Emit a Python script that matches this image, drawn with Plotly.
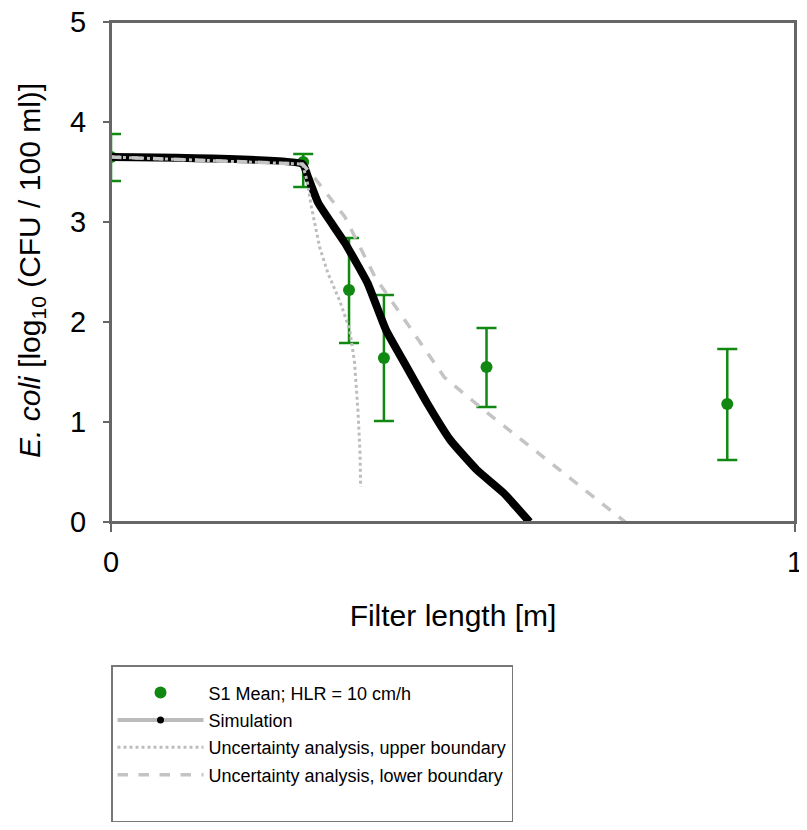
import plotly.graph_objects as go

# measured data (S1 mean, HLR = 10 cm/h)
obs_x = [0.0, 0.281, 0.348, 0.399, 0.549, 0.901]
obs_y = [3.65, 3.60, 2.32, 1.64, 1.55, 1.18]
obs_hi = [3.88, 3.68, 2.84, 2.27, 1.94, 1.73]
obs_lo = [3.41, 3.35, 1.79, 1.01, 1.15, 0.62]

# simulation
sim_x = [0.0, 0.28, 0.288, 0.303, 0.342, 0.375, 0.402, 0.429, 0.462, 0.496, 0.535, 0.574, 0.612]
sim_y = [3.65, 3.58, 3.45, 3.19, 2.79, 2.39, 1.92, 1.59, 1.19, 0.82, 0.52, 0.29, 0.0]

# uncertainty analysis, upper boundary
up_x = [0.0, 0.28, 0.287, 0.293, 0.305, 0.317, 0.335, 0.349, 0.356, 0.361, 0.364, 0.365]
up_y = [3.65, 3.58, 3.40, 3.15, 2.75, 2.49, 2.20, 1.92, 1.60, 1.12, 0.70, 0.35]

# uncertainty analysis, lower boundary
low_x = [0.0, 0.28, 0.30, 0.342, 0.386, 0.433, 0.487, 0.545, 0.632, 0.69, 0.752]
low_y = [3.65, 3.58, 3.42, 3.05, 2.45, 1.99, 1.45, 1.12, 0.65, 0.33, 0.0]

# y tick labels
y_ticks = [0, 1, 2, 3, 4, 5]

green = '#118811'
fig = go.Figure()

fig.add_trace(go.Scatter(
    x=obs_x, y=obs_y, mode='markers', name='S1 Mean; HLR = 10 cm/h',
    legendgroup='a',
    marker=dict(color=green, size=12),
    error_y=dict(type='data', symmetric=False,
                 array=[h - m for h, m in zip(obs_hi, obs_y)],
                 arrayminus=[m - l for m, l in zip(obs_y, obs_lo)],
                 color=green, thickness=2.5, width=10)
))
fig.add_trace(go.Scatter(
    x=sim_x, y=sim_y, mode='lines', showlegend=False,
    line=dict(color='black', width=8, shape='spline', smoothing=0.4)
))
# legend entry for simulation (grey line with black dot)
fig.add_trace(go.Scatter(
    x=[None], y=[None], mode='lines+markers', name='Simulation', legendgroup='b',
    line=dict(color='#bbbbbb', width=4), marker=dict(color='black', size=7)
))
fig.add_trace(go.Scatter(
    x=up_x, y=up_y, mode='lines', name='Uncertainty analysis, upper boundary',
    legendgroup='c',
    line=dict(color='#bdbdbd', width=3, dash='dot')
))
fig.add_trace(go.Scatter(
    x=low_x, y=low_y, mode='lines', name='Uncertainty analysis, lower boundary',
    legendgroup='d',
    line=dict(color='#c4c4c4', width=3.5, dash='dash')
))
# empty row to give the legend box its bottom space
fig.add_trace(go.Scatter(
    x=[None], y=[None], mode='lines', name=' ', legendgroup='e',
    line=dict(color='rgba(0,0,0,0)')
))

# frame around the plot area
fig.add_shape(type='rect', xref='paper', yref='paper', x0=0, x1=1, y0=0, y1=1,
              line=dict(color='#666666', width=2), layer='above')

# y tick labels, placed with a wider gap than plotly gives
for v in y_ticks:
    fig.add_annotation(text=str(v), xref='paper', yref='y', x=-0.034, y=v,
                       xanchor='right', yanchor='middle', showarrow=False,
                       font=dict(size=29))

# y axis title
fig.add_annotation(text='<i>E. coli</i> [log<sub>10</sub> (CFU / 100 ml)]',
                   xref='paper', yref='paper', x=-0.117, y=0.504,
                   xanchor='center', yanchor='middle', textangle=-90,
                   showarrow=False, font=dict(size=30))

# the page body offsets the figure by 8px, margins compensate for it
fig.update_layout(
    width=807, height=830,
    margin=dict(l=103, r=14, t=14, b=316),
    plot_bgcolor='white', paper_bgcolor='white',
    font=dict(family='Liberation Sans, Arial', color='black', size=18),
    showlegend=True,
    legend=dict(x=0, y=-0.286, xanchor='left', yanchor='top',
                title=dict(text=' ', font=dict(size=6)),
                bordercolor='#777777', borderwidth=1.5, traceorder='grouped',
                font=dict(size=18), itemwidth=86, tracegroupgap=1),
    xaxis=dict(range=[0, 1], dtick=1, showgrid=False, zeroline=False, automargin=True,
               showline=True, linecolor='#666666', linewidth=2, mirror=True,
               ticks='outside', ticklen=8, tickcolor='#666666', tickwidth=2,
               tickfont=dict(size=29), ticklabelstandoff=5, ticklabeloverflow='allow',
               title=dict(text='Filter length [m]', font=dict(size=30), standoff=28)),
    yaxis=dict(range=[0, 5], tickvals=y_ticks, showgrid=False, zeroline=False,
               automargin=False, showticklabels=False,
               showline=True, linecolor='#666666', linewidth=2, mirror=True,
               ticks='outside', ticklen=6, tickcolor='#666666', tickwidth=2),
)

fig.write_html("out.html")
